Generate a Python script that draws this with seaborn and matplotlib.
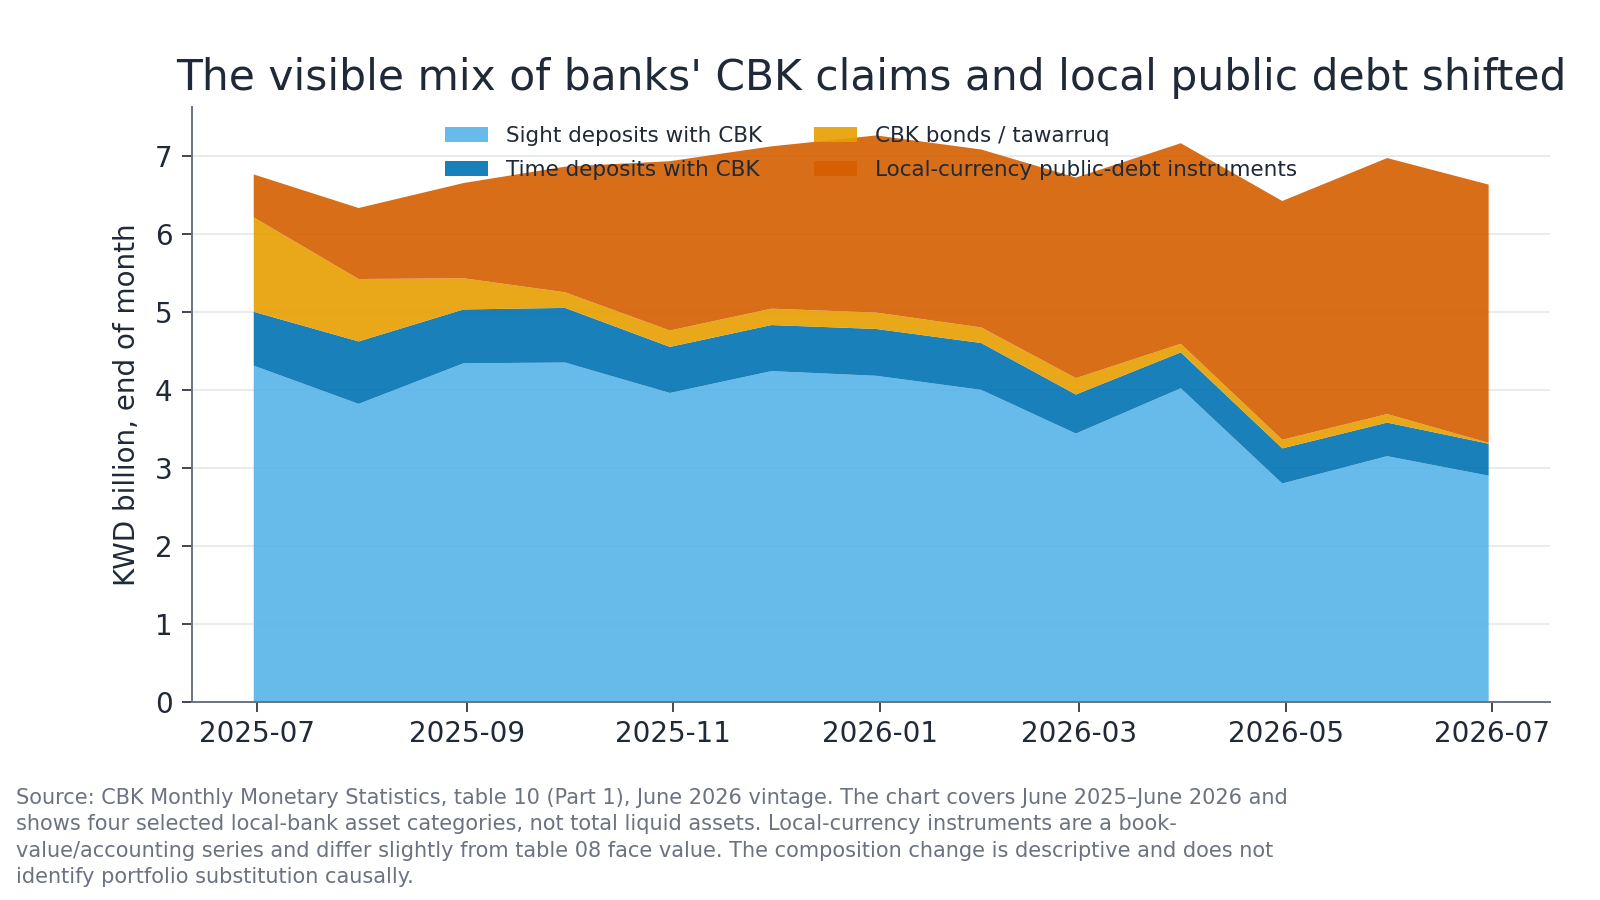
import pandas as pd
import numpy as np
import matplotlib
matplotlib.use("Agg")
import matplotlib.pyplot as plt
import matplotlib.dates as mdates
import seaborn as sns

# end-of-month values, KWD billion
months = pd.date_range("2025-06-30", "2026-06-30", freq="ME")
sight = [4.31, 3.82, 4.34, 4.35, 3.96, 4.24, 4.18, 4.00, 3.44, 4.02, 2.80, 3.15, 2.90]
time_dep = [0.69, 0.80, 0.69, 0.70, 0.59, 0.59, 0.60, 0.60, 0.50, 0.46, 0.45, 0.43, 0.41]
cbk_bonds = [1.21, 0.80, 0.40, 0.20, 0.21, 0.21, 0.21, 0.20, 0.21, 0.11, 0.11, 0.11, 0.01]
local_debt = [0.55, 0.91, 1.22, 1.61, 2.17, 2.08, 2.27, 2.28, 2.57, 2.57, 3.06, 3.28, 3.31]

labels = ["Sight deposits with CBK", "Time deposits with CBK",
          "CBK bonds / tawarruq", "Local-currency public-debt instruments"]
colors = ["#56B4E9", "#0072B2", "#E69F00", "#D55E00"]

ink = "#1F2937"
muted = "#6B7280"

sns.set_theme(style="ticks")
plt.rcParams['font.family'] = ['DejaVu Sans']

fig = plt.figure(figsize=(16, 9), dpi=100)
ax = fig.add_axes([0.12, 0.22, 0.849, 0.661])

ax.stackplot(months, sight, time_dep, cbk_bonds, local_debt,
             labels=labels, colors=colors, alpha=0.9, linewidth=0,
             edgecolor="none", zorder=2)

ax.set_ylim(0, None)
ax.yaxis.grid(True, color="#E5E7EB", linewidth=1.2, zorder=0)
ax.set_axisbelow(True)

ax.xaxis.set_major_locator(mdates.MonthLocator(bymonth=[1, 3, 5, 7, 9, 11]))
ax.xaxis.set_major_formatter(mdates.DateFormatter("%Y-%m"))

ax.tick_params(axis="both", labelsize=20, colors=ink, length=7, width=1.2)
ax.tick_params(axis="x", pad=6)
ax.tick_params(axis="y", pad=7)
for side in ["left", "bottom"]:
    ax.spines[side].set_color(muted)
    ax.spines[side].set_linewidth(1.4)
sns.despine(ax=ax)

ax.set_ylabel("KWD billion, end of month", fontsize=20, color=ink, labelpad=10)
ax.set_title("The visible mix of banks' CBK claims and local public debt shifted",
             fontsize=30.5, color=ink, pad=12)

leg = ax.legend(loc="upper center", ncol=2, frameon=False, fontsize=15.5,
                bbox_to_anchor=(0.5, 1.0), columnspacing=2.4, handlelength=2.0,
                handletextpad=0.85, labelspacing=0.65, labelcolor=ink)

caption = ("Source: CBK Monthly Monetary Statistics, table 10 (Part 1), June 2026 vintage. "
           "The chart covers June 2025\u2013June 2026 and\n"
           "shows four selected local-bank asset categories, not total liquid assets. "
           "Local-currency instruments are a book-\n"
           "value/accounting series and differ slightly from table 08 face value. "
           "The composition change is descriptive and does not\n"
           "identify portfolio substitution causally.")
fig.text(0.01, 0.124, caption, fontsize=15, color=muted, va="top", ha="left",
         linespacing=1.38)

fig.savefig("out.png", dpi=100)
